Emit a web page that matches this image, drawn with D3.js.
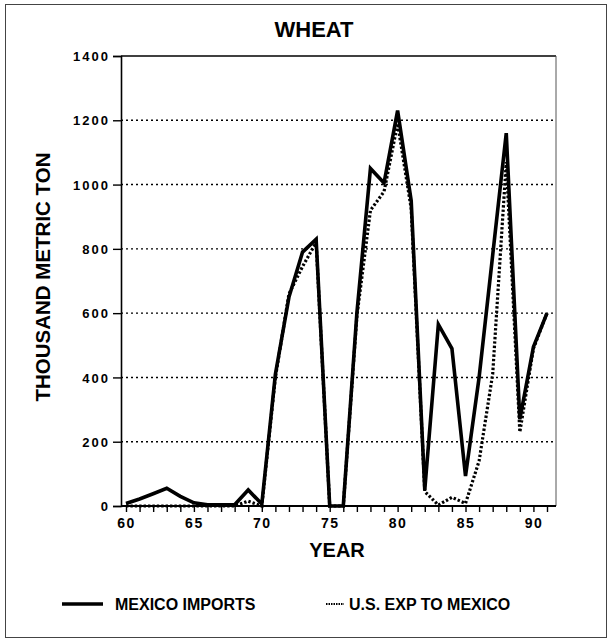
<!DOCTYPE html>
<html>
<head>
<meta charset="utf-8">
<script src="https://cdn.jsdelivr.net/npm/d3@7"></script>
<style>
  body { margin: 0; background: #fff; }
  text { font-family: "Liberation Sans", Arial, sans-serif; font-weight: bold; fill: #000; }
</style>
</head>
<body>
<div id="chart"></div>
<script>
var svgWidth = 612;
var svgHeight = 643;

// data (thousand metric ton)
var years = [60, 61, 62, 63, 64, 65, 66, 67, 68, 69, 70, 71, 72, 73, 74, 75,
             76, 77, 78, 79, 80, 81, 82, 83, 84, 85, 86, 87, 88, 89, 90, 91];
var mexicoImports = [8, 22, 38, 55, 30, 10, 4, 4, 4, 50, 6, 410, 650, 790, 830, 0,
                     0, 600, 1050, 1005, 1230, 950, 50, 565, 490, 93, 400, 780, 1160, 270, 495, 600];
var usExports = [0, 0, 0, 0, 0, 0, 0, 0, 0, 15, 0, 400, 660, 745, 820, 0,
                 0, 590, 920, 978, 1190, 925, 45, 3, 27, 8, 140, 410, 1070, 230, 490, 600];
var yTicks = [0, 200, 400, 600, 800, 1000, 1200, 1400];
var xLabels = [60, 65, 70, 75, 80, 85, 90];

var plot = { left: 121, right: 556, top: 56, bottom: 506 };

var svg = d3.select("#chart")
  .append("svg")
  .attr("width", svgWidth)
  .attr("height", svgHeight);

// outer frame
svg.append("rect")
  .attr("x", 5.5).attr("y", 4.5)
  .attr("width", 601).attr("height", 633)
  .attr("fill", "none")
  .attr("stroke", "#444")
  .attr("stroke-width", 1);

var x = d3.scaleLinear().domain([59.632, 91.663]).range([plot.left, plot.right]);
var y = d3.scaleLinear().domain([0, 1400]).range([plot.bottom, plot.top]);

// gridlines
svg.append("g")
  .selectAll("line")
  .data(yTicks.filter(d => d > 0 && d < 1400))
  .enter()
  .append("line")
  .attr("x1", plot.left).attr("x2", plot.right)
  .attr("y1", d => y(d)).attr("y2", d => y(d))
  .attr("stroke", "#000")
  .attr("stroke-width", 1.4)
  .attr("stroke-dasharray", "2,3");

// top and right border of the plot
svg.append("line")
  .attr("x1", plot.left).attr("x2", plot.right)
  .attr("y1", y(1400)).attr("y2", y(1400))
  .attr("stroke", "#000").attr("stroke-width", 1.6);
svg.append("line")
  .attr("x1", plot.right).attr("x2", plot.right)
  .attr("y1", plot.top).attr("y2", plot.bottom)
  .attr("stroke", "#555").attr("stroke-width", 1);

// y axis
var yAxis = d3.axisLeft(y).tickValues(yTicks).tickSize(8).tickPadding(3)
  .tickFormat(d3.format("d"));
var yg = svg.append("g")
  .attr("transform", "translate(" + plot.left + ",0)")
  .call(yAxis);
yg.select(".domain").attr("stroke-width", 1.6);
yg.selectAll(".tick line").attr("stroke-width", 1.4);
yg.selectAll("text")
  .style("font-size", "13px")
  .style("letter-spacing", "2px")
  .attr("dy", "0.36em")
  .attr("fill", "#000");

// x axis
var xAxis = d3.axisBottom(x).tickValues(years).tickSize(6).tickPadding(6)
  .tickFormat(d => xLabels.indexOf(d) >= 0 ? d : "");
var xg = svg.append("g")
  .attr("transform", "translate(0," + plot.bottom + ")")
  .call(xAxis);
xg.select(".domain").attr("stroke-width", 2).attr("d", "M" + plot.left + ",0H" + plot.right);
xg.selectAll(".tick line").attr("stroke-width", 1.4);
xg.selectAll("text")
  .style("font-size", "14px")
  .style("letter-spacing", "1.5px")
  .attr("fill", "#000");

// lines
var line = d3.line()
  .x((d, i) => x(years[i]))
  .y(d => y(d));

svg.append("path")
  .datum(mexicoImports)
  .attr("d", line)
  .attr("fill", "none")
  .attr("stroke", "#000")
  .attr("stroke-width", 3.6)
  .attr("stroke-linejoin", "miter");

svg.append("path")
  .datum(usExports)
  .attr("d", line)
  .attr("fill", "none")
  .attr("stroke", "#000")
  .attr("stroke-width", 3.2)
  .attr("stroke-dasharray", "2.4,2");

// titles
svg.append("text")
  .attr("x", 314).attr("y", 37)
  .attr("text-anchor", "middle")
  .style("font-size", "22px")
  .text("WHEAT");

svg.append("text")
  .attr("x", 337).attr("y", 557)
  .attr("text-anchor", "middle")
  .style("font-size", "20px")
  .text("YEAR");

svg.append("text")
  .attr("transform", "translate(50,277) rotate(-90)")
  .attr("text-anchor", "middle")
  .style("font-size", "20.5px")
  .text("THOUSAND METRIC TON");

// legend
var legend = svg.append("g");
legend.append("line")
  .attr("x1", 62).attr("x2", 103).attr("y1", 604).attr("y2", 604)
  .attr("stroke", "#000").attr("stroke-width", 3.5);
legend.append("text")
  .attr("x", 115).attr("y", 610)
  .style("font-size", "16px")
  .text("MEXICO IMPORTS");
legend.append("line")
  .attr("x1", 326).attr("x2", 344).attr("y1", 604).attr("y2", 604)
  .attr("stroke", "#000").attr("stroke-width", 2)
  .attr("stroke-dasharray", "1.5,1");
legend.append("text")
  .attr("x", 349).attr("y", 610)
  .style("font-size", "16px")
  .text("U.S. EXP TO MEXICO");
</script>
</body>
</html>
